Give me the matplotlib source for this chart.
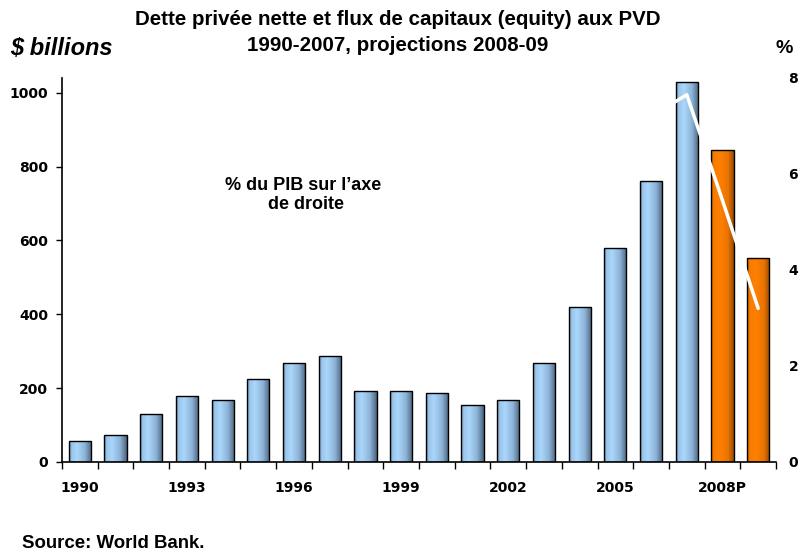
import matplotlib
matplotlib.use('Agg')
import matplotlib.pyplot as plt
import numpy as np
from matplotlib.colors import LinearSegmentedColormap

years = list(range(1990, 2010))
flows = [57, 73, 130, 178, 167, 226, 267, 288, 191, 191, 186, 154, 167, 267,
         420, 580, 760, 1030, 844, 553]
projected = [False] * 18 + [True, True]
pct_gdp = [1.6, 1.9, 2.4, 3.2, 2.9, 3.4, 3.9, 4.1, 3.1, 3.0, 2.8, 2.4, 2.5, 3.3,
           4.4, 5.3, 7.2, 7.65, 5.45, 3.2]
tick_labels = {1990: '1990', 1993: '1993', 1996: '1996', 1999: '1999',
               2002: '2002', 2005: '2005', 2008: '2008P'}

blue = LinearSegmentedColormap.from_list('blue', [
    (0.0, '#6f90b0'), (0.12, '#9cc6ec'), (0.35, '#aad6fb'),
    (0.7, '#8db3d6'), (1.0, '#4a6580')])
orange = LinearSegmentedColormap.from_list('orange', [
    (0.0, '#c86400'), (0.12, '#f57c00'), (0.4, '#ff8000'),
    (0.75, '#e87300'), (1.0, '#9a4a00')])

TICK_FONT = dict(family='DejaVu Sans', weight='bold', size=10)


def main():
    fig = plt.figure(figsize=(8.03, 5.53), dpi=100)
    ax = fig.add_axes([0.0772, 0.1646, 0.8892, 0.6944])
    ax2 = ax.twinx()

    x = np.arange(len(years))
    width = 0.62
    grad = np.linspace(0, 1, 64).reshape(1, -1)
    bars = ax.bar(x, flows, width=width, facecolor='none', edgecolor='black',
                  linewidth=1.0, zorder=3)
    for i, b in enumerate(bars):
        cmap = orange if projected[i] else blue
        im = ax.imshow(grad, cmap=cmap, aspect='auto', zorder=2,
                       extent=(x[i] - width / 2, x[i] + width / 2, 0, flows[i]))
        im.set_clip_path(b)

    ax.set_xlim(-0.5, len(years) - 0.5)
    ax.set_ylim(0, 1040)
    ax.set_yticks([0, 200, 400, 600, 800, 1000])
    ax.set_xticks([i for i, y in enumerate(years) if y in tick_labels])
    ax.set_xticklabels([tick_labels[y] for y in years if y in tick_labels])
    ax.set_xticks(np.arange(-0.5, len(years)), minor=True)
    ax.tick_params(axis='x', which='major', length=0, pad=14)
    ax.tick_params(axis='x', which='minor', length=5, direction='out', width=1)
    ax.tick_params(axis='y', length=4, width=1, pad=6)
    for lab in ax.get_xticklabels() + ax.get_yticklabels():
        lab.set_fontproperties(TICK_FONT)
    for s in ['top', 'right']:
        ax.spines[s].set_visible(False)
    ax.spines['left'].set_linewidth(1.2)
    ax.spines['bottom'].set_linewidth(1.2)

    ax2.plot(x, pct_gdp, color='white', linewidth=2.5, solid_capstyle='round',
             solid_joinstyle='round', zorder=5)
    ax2.set_ylim(0, 8)
    ax2.set_yticks([0, 2, 4, 6, 8])
    ax2.tick_params(axis='y', length=0, pad=9)
    for lab in ax2.get_yticklabels():
        lab.set_fontproperties(TICK_FONT)
    for s in ['top', 'right', 'left', 'bottom']:
        ax2.spines[s].set_visible(False)

    fig.text(0.495, 0.982, 'Dette privée nette et flux de capitaux (equity) aux PVD\n'
             '1990-2007, projections 2008-09', ha='center', va='top',
             family='Liberation Sans', weight='bold', fontsize=14.8, linespacing=1.5)
    fig.text(0.012, 0.912, '$ billions', ha='left', va='center',
             family='Liberation Sans', weight='bold', style='italic', fontsize=17)
    fig.text(0.977, 0.912, '%', ha='center', va='center',
             family='Liberation Sans', weight='bold', fontsize=14)
    fig.text(0.378, 0.647, '% du PIB sur l\u2019axe\n de droite', ha='center', va='center',
             family='Liberation Sans', weight='bold', fontsize=13, linespacing=1.15)
    fig.text(0.027, 0.018, 'Source: World Bank.', ha='left', va='center',
             family='Liberation Sans', weight='bold', fontsize=13.4)

    fig.savefig('out.png', dpi=100)


if __name__ == '__main__':
    main()
